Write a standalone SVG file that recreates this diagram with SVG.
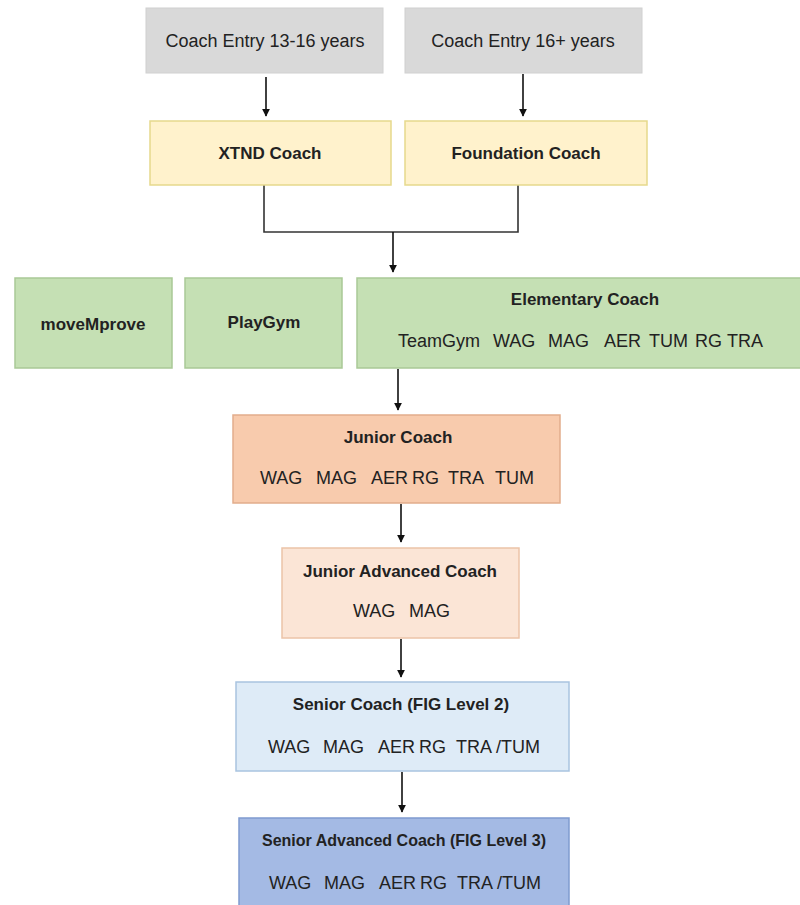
<svg xmlns="http://www.w3.org/2000/svg" width="800" height="905" viewBox="0 0 800 905">
<defs>
<marker id="ah" viewBox="0 0 10 10" refX="9" refY="5" markerWidth="8" markerHeight="9" markerUnits="userSpaceOnUse" orient="auto">
<path d="M0,0 L10,5 L0,10 Z" fill="#111"/>
</marker>
<style>
text{font-family:"Liberation Sans",Arial,sans-serif;font-size:18px;fill:#222}
.b{font-weight:bold;font-size:17px}
.m{text-anchor:middle}
.gray{fill:#d9d9d9;stroke:#d0d0d0}
.yel{fill:#fff2cc;stroke:#e6d98c;stroke-width:1.5}
.grn{fill:#c5e0b4;stroke:#a9c996;stroke-width:1.5}
.org{fill:#f8cbad;stroke:#e2ad8c;stroke-width:1.5}
.pch{fill:#fbe5d6;stroke:#ecc3a8;stroke-width:1.5}
.lbl{fill:#deebf7;stroke:#a9c4e0;stroke-width:1.5}
.blu{fill:#a4bae4;stroke:#7f9bcf;stroke-width:1.5}
.ar{stroke:#111;stroke-width:1.6;fill:none;marker-end:url(#ah)}
.ln{stroke:#333;stroke-width:1.6;fill:none}
</style>
</defs>
<rect width="800" height="905" fill="#fff"/>
<g id="connectors">
<line class="ar" x1="266" y1="77" x2="266" y2="116"/>
<line class="ar" x1="523" y1="74" x2="523" y2="116"/>
<polyline class="ln" points="264,185 264,232 518,232 518,185"/>
<line class="ar" x1="393" y1="232" x2="393" y2="272"/>
<line class="ar" x1="398" y1="369" x2="398" y2="410"/>
<line class="ar" x1="401" y1="504" x2="401" y2="542"/>
<line class="ar" x1="401" y1="639" x2="401" y2="677"/>
<line class="ar" x1="402" y1="772" x2="402" y2="812"/>
</g>
<g id="entry1"><rect class="gray" x="146" y="8" width="237" height="65"/><text class="m" x="265" y="47">Coach Entry 13-16 years</text></g>
<g id="entry2"><rect class="gray" x="405" y="8" width="237" height="65"/><text class="m" x="523" y="47">Coach Entry 16+ years</text></g>
<g id="xtnd"><rect class="yel" x="150" y="121" width="241" height="64"/><text class="m b" x="270" y="159">XTND Coach</text></g>
<g id="foundation"><rect class="yel" x="405" y="121" width="242" height="64"/><text class="m b" x="526" y="159">Foundation Coach</text></g>
<g id="movemprove"><rect class="grn" x="15" y="278" width="157" height="90"/><text class="m b" x="93" y="330">moveMprove</text></g>
<g id="playgym"><rect class="grn" x="185" y="278" width="157" height="90"/><text class="m b" x="264" y="328">PlayGym</text></g>
<g id="elementary"><rect class="grn" x="357" y="278" width="450" height="90"/><text class="m b" x="585" y="305">Elementary Coach</text>
<text y="347"><tspan x="398">TeamGym</tspan><tspan x="493">WAG</tspan><tspan x="548">MAG</tspan><tspan x="604">AER</tspan><tspan x="649">TUM</tspan><tspan x="695">RG</tspan><tspan x="727">TRA</tspan></text></g>
<g id="junior"><rect class="org" x="233" y="415" width="327" height="88"/><text class="m b" x="398" y="443">Junior Coach</text>
<text y="484"><tspan x="260">WAG</tspan><tspan x="316">MAG</tspan><tspan x="371">AER</tspan><tspan x="412">RG</tspan><tspan x="448">TRA</tspan><tspan x="495">TUM</tspan></text></g>
<g id="junioradv"><rect class="pch" x="282" y="548" width="237" height="90"/><text class="m b" x="400" y="577">Junior Advanced Coach</text>
<text y="617"><tspan x="353">WAG</tspan><tspan x="409">MAG</tspan></text></g>
<g id="senior"><rect class="lbl" x="236" y="682" width="333" height="89"/><text class="m b" x="401" y="710">Senior Coach  (FIG Level 2)</text>
<text y="753"><tspan x="268">WAG</tspan><tspan x="323">MAG</tspan><tspan x="378">AER</tspan><tspan x="419">RG</tspan><tspan x="456">TRA /TUM</tspan></text></g>
<g id="senioradv"><rect class="blu" x="239" y="818" width="330" height="95"/><text class="m b" x="404" y="846" textLength="284" lengthAdjust="spacingAndGlyphs">Senior Advanced Coach (FIG Level 3)</text>
<text y="889"><tspan x="269">WAG</tspan><tspan x="324">MAG</tspan><tspan x="379">AER</tspan><tspan x="420">RG</tspan><tspan x="457">TRA /TUM</tspan></text></g>
</svg>
